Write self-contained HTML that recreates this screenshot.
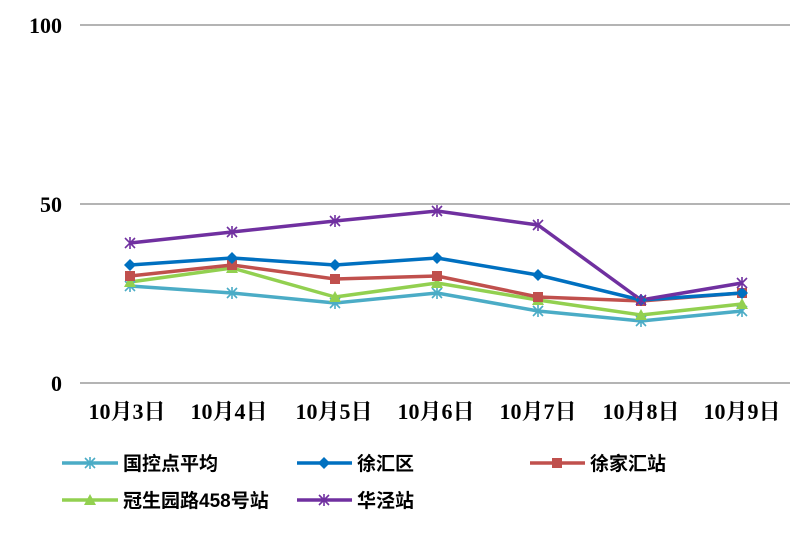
<!DOCTYPE html>
<html><head><meta charset="utf-8"><style>
body{margin:0;background:#fff}
svg{display:block}
.t{font-family:"Liberation Serif","Noto Serif CJK SC",serif;font-weight:bold;font-size:22px;fill:#000}
.l{font-family:"Liberation Sans","Noto Sans CJK SC",sans-serif;font-weight:bold;font-size:19px;fill:#000}
</style></head><body>
<svg width="812" height="534" xmlns="http://www.w3.org/2000/svg">
<defs>
<g id="star"><path d="M-5,-5L5,5M-5,5L5,-5M0,-6V6" stroke-width="1.6"/></g>
<g id="dia"><path d="M0,-6L6,0L0,6L-6,0Z"/></g>
<g id="sq"><rect x="-5" y="-5" width="10" height="10"/></g>
<g id="tri"><path d="M0,-6L6,5H-6Z"/></g>
</defs>
<line x1="80" y1="25" x2="790" y2="25" stroke="#888" stroke-width="1.2"/>
<line x1="80" y1="204" x2="790" y2="204" stroke="#888" stroke-width="1.2"/>
<line x1="80" y1="383" x2="790" y2="383" stroke="#888" stroke-width="1.2"/>
<text class="t" x="62" y="33" text-anchor="end">100</text>
<text class="t" x="62" y="212" text-anchor="end">50</text>
<text class="t" x="62" y="391" text-anchor="end">0</text>
<g class="t" text-anchor="middle">
<text x="127" y="419">10月3日</text><text x="229" y="419">10月4日</text><text x="334" y="419">10月5日</text><text x="436" y="419">10月6日</text><text x="538" y="419">10月7日</text><text x="641" y="419">10月8日</text><text x="742" y="419">10月9日</text>
</g>
<g fill="none" stroke-width="3.5" stroke-linejoin="round">
<polyline stroke="#4bacc6" points="130,286 232,293 335,303 437,293 538,311 641,321 742,311"/>
<polyline stroke="#92d050" points="130,282 232,268 335,297 437,283 538,300 641,315 742,304"/>
<polyline stroke="#c0504d" points="130,276 232,265 335,279 437,276 538,297 641,301 742,293"/>
<polyline stroke="#0070c0" points="130,265 232,258 335,265 437,258 538,275 641,300 742,293"/>
<polyline stroke="#7030a0" points="130,243 232,232 335,221 437,211 538,225 641,300 742,283"/>
</g>
<g stroke="#4bacc6" fill="none"><use href="#star" x="130" y="286"/><use href="#star" x="232" y="293"/><use href="#star" x="335" y="303"/><use href="#star" x="437" y="293"/><use href="#star" x="538" y="311"/><use href="#star" x="641" y="321"/><use href="#star" x="742" y="311"/></g>
<g fill="#92d050"><use href="#tri" x="130" y="282"/><use href="#tri" x="232" y="268"/><use href="#tri" x="335" y="297"/><use href="#tri" x="437" y="283"/><use href="#tri" x="538" y="300"/><use href="#tri" x="641" y="315"/><use href="#tri" x="742" y="304"/></g>
<g fill="#c0504d"><use href="#sq" x="130" y="276"/><use href="#sq" x="232" y="265"/><use href="#sq" x="335" y="279"/><use href="#sq" x="437" y="276"/><use href="#sq" x="538" y="297"/><use href="#sq" x="641" y="301"/><use href="#sq" x="742" y="293"/></g>
<g fill="#0070c0"><use href="#dia" x="130" y="265"/><use href="#dia" x="232" y="258"/><use href="#dia" x="335" y="265"/><use href="#dia" x="437" y="258"/><use href="#dia" x="538" y="275"/><use href="#dia" x="641" y="300"/><use href="#dia" x="742" y="293"/></g>
<g stroke="#7030a0" fill="none"><use href="#star" x="130" y="243"/><use href="#star" x="232" y="232"/><use href="#star" x="335" y="221"/><use href="#star" x="437" y="211"/><use href="#star" x="538" y="225"/><use href="#star" x="641" y="300"/><use href="#star" x="742" y="283"/></g>
<line x1="62" y1="463" x2="118" y2="463" stroke="#4bacc6" stroke-width="3.5"/><use href="#star" x="90" y="463" stroke="#4bacc6"/>
<text class="l" x="123" y="470">国控点平均</text>
<line x1="297" y1="463" x2="352" y2="463" stroke="#0070c0" stroke-width="3.5"/><use href="#dia" x="324" y="463" fill="#0070c0"/>
<text class="l" x="357" y="470">徐汇区</text>
<line x1="530" y1="463" x2="585" y2="463" stroke="#c0504d" stroke-width="3.5"/><use href="#sq" x="557" y="463" fill="#c0504d"/>
<text class="l" x="590" y="470">徐家汇站</text>
<line x1="62" y1="500" x2="118" y2="500" stroke="#92d050" stroke-width="3.5"/><use href="#tri" x="90" y="500" fill="#92d050"/>
<text class="l" x="123" y="507">冠生园路458号站</text>
<line x1="297" y1="500" x2="352" y2="500" stroke="#7030a0" stroke-width="3.5"/><use href="#star" x="324" y="500" stroke="#7030a0"/>
<text class="l" x="357" y="507">华泾站</text>
</svg>
</body></html>
